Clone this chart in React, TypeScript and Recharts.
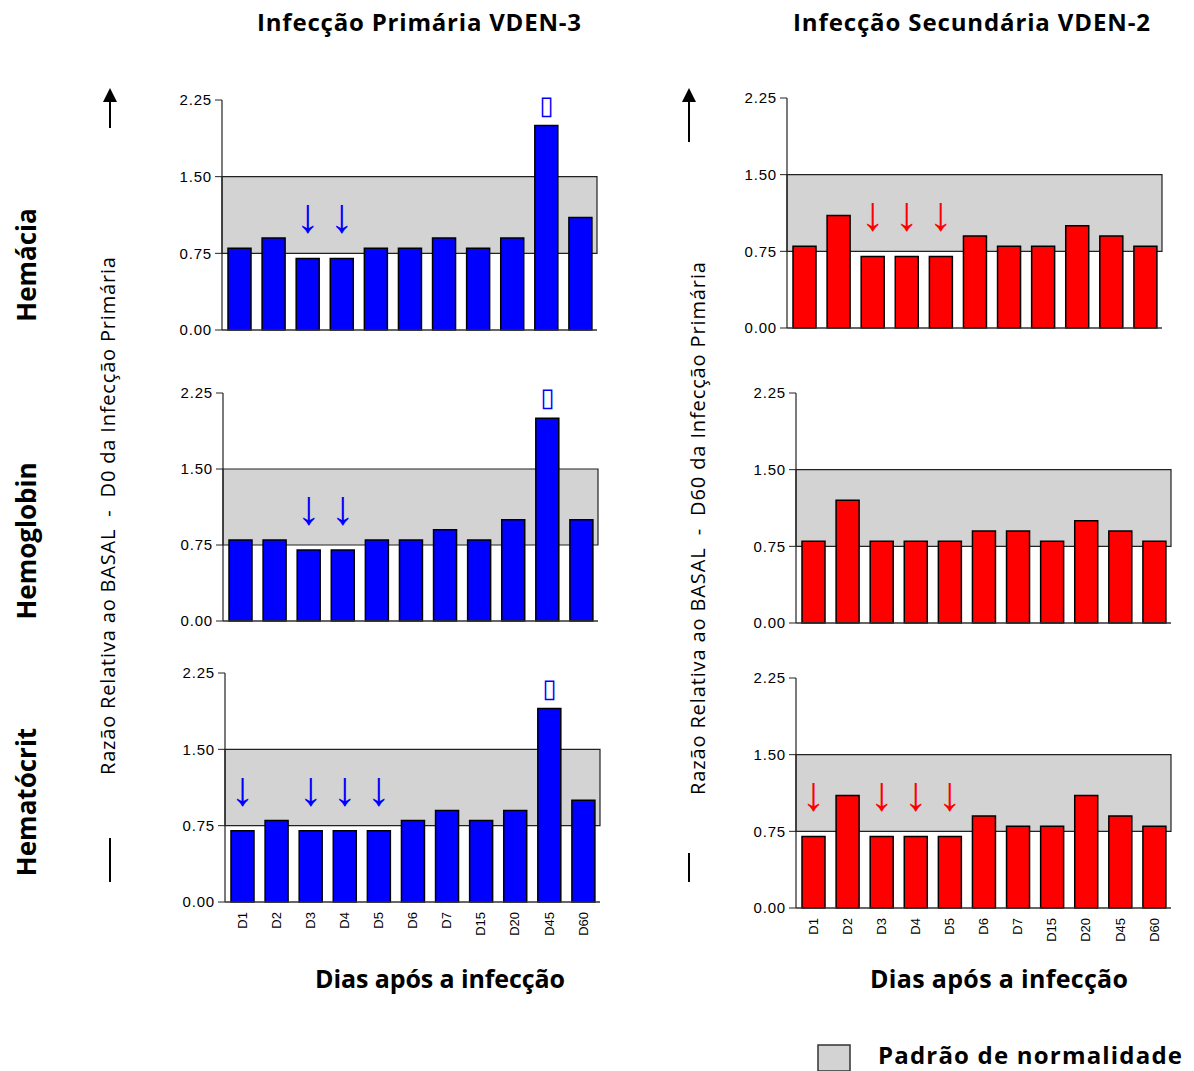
import React from 'react';
import { BarChart, Bar, XAxis, YAxis, ReferenceArea, LabelList } from 'recharts';

const days = ['D1', 'D2', 'D3', 'D4', 'D5', 'D6', 'D7', 'D15', 'D20', 'D45', 'D60'];

const primHemacia = [0.8, 0.9, 0.7, 0.7, 0.8, 0.8, 0.9, 0.8, 0.9, 2.0, 1.1];
const secHemacia = [0.8, 1.1, 0.7, 0.7, 0.7, 0.9, 0.8, 0.8, 1.0, 0.9, 0.8];
const primHemoglobin = [0.8, 0.8, 0.7, 0.7, 0.8, 0.8, 0.9, 0.8, 1.0, 2.0, 1.0];
const secHemoglobin = [0.8, 1.2, 0.8, 0.8, 0.8, 0.9, 0.9, 0.8, 1.0, 0.9, 0.8];
const primHematocrit = [0.7, 0.8, 0.7, 0.7, 0.7, 0.8, 0.9, 0.8, 0.9, 1.9, 1.0];
const secHematocrit = [0.7, 1.1, 0.7, 0.7, 0.7, 0.9, 0.8, 0.8, 1.1, 0.9, 0.8];

// markers: 'd' = down arrow, 'u' = up marker (rendered as missing-glyph box in source)
const primHemaciaMarks = ['', '', 'd', 'd', '', '', '', '', '', 'u', ''];
const secHemaciaMarks = ['', '', 'd', 'd', 'd', '', '', '', '', '', ''];
const primHemoglobinMarks = ['', '', 'd', 'd', '', '', '', '', '', 'u', ''];
const secHemoglobinMarks = ['', '', '', '', '', '', '', '', '', '', ''];
const primHematocritMarks = ['d', '', 'd', 'd', 'd', '', '', '', '', 'u', ''];
const secHematocritMarks = ['d', '', 'd', 'd', 'd', '', '', '', '', '', ''];

const yTicks = [0, 0.75, 1.5, 2.25];
const normalRange = [0.75, 1.5];

const BLUE = '#0000ff';
const RED = '#ff0000';
const TEXT_FONT = '"Open Sans", sans-serif';

const build = (vals: number[], marks: string[]) =>
  days.map((d, i) => ({ day: d, value: vals[i], mark: marks[i] }));

const makeMark = (color: string) => (props: any) => {
  const { x, y, width, value } = props;
  if (!value) return null;
  const cx = Number(x) + Number(width) / 2;
  const top = Number(y);
  if (value === 'd') {
    return (
      <text x={cx} y={top - 26} textAnchor="middle" fill={color} fontSize={48}
        fontFamily="Liberation Sans, Arial, sans-serif">↓</text>
    );
  }
  return (
    <text x={cx} y={top - 12} textAnchor="middle" fill={color} fontSize={26}
      fontFamily="DejaVu Sans, sans-serif">▯</text>
  );
};

const XTick = (props: any) => {
  const { x, y, payload } = props;
  return (
    <text x={x} y={y + 2} transform={`rotate(-90, ${x}, ${y + 2})`} textAnchor="end" dy="0.36em"
      fontSize={13} fontFamily="Liberation Sans, Arial, sans-serif" fill="#000">
      {payload.value}
    </text>
  );
};

type PanelProps = {
  data: any[];
  color: string;
  axisX: number;
  y225: number;
  y0: number;
  showX: boolean;
};

const Panel = ({ data, color, axisX, y225, y0, showX }: PanelProps) => {
  const mTop = 15;
  const mBottom = showX ? 0 : 14;
  const yw = 60;
  const plotW = 375;
  const xh = showX ? 45 : 1;
  const h = y0 - y225 + mTop + xh + mBottom;
  const w = yw + plotW + 10;
  return (
    <div style={{ position: 'absolute', left: axisX - yw, top: y225 - mTop }}>
      <BarChart width={w} height={h} data={data} barSize={23}
        margin={{ top: mTop, right: 10, bottom: mBottom, left: 0 }}>
        <ReferenceArea y1={normalRange[0]} y2={normalRange[1]} fill="#d3d3d3" fillOpacity={1}
          stroke="#222" strokeWidth={1.2} />
        <XAxis dataKey="day" axisLine={{ stroke: '#333', strokeWidth: 1.5 }} tickLine={false}
          tick={showX ? <XTick /> : false} height={xh} interval={0} />
        <YAxis width={yw} domain={[0, 2.25]} ticks={yTicks} interval={0}
          axisLine={{ stroke: '#222', strokeWidth: 1.2 }} tickLine={{ stroke: '#222' }}
          tickSize={7} tickMargin={3}
          tickFormatter={(v: number) => v.toFixed(2)}
          tick={{ fontSize: 15, fill: '#000', fontFamily: 'Liberation Sans, Arial, sans-serif', letterSpacing: 0.8 }} />
        <Bar dataKey="value" fill={color} stroke="#000" strokeWidth={1.5} isAnimationActive={false}>
          <LabelList dataKey="mark" content={makeMark(color)} />
        </Bar>
      </BarChart>
    </div>
  );
};

export default function App() {
  return (
    <div style={{ position: 'absolute', left: 0, top: 0, width: 1194, height: 1071, background: '#fff', overflow: 'hidden' }}>
      <svg width={1194} height={1071} style={{ position: 'absolute', left: 0, top: 0 }}>
        <g fontFamily={TEXT_FONT} fill="#000">
          <text x={257} y={31} fontSize={24} fontWeight="bold" textLength={324} lengthAdjust="spacing">Infecção Primária VDEN-3</text>
          <text x={793} y={31} fontSize={24} fontWeight="bold" textLength={357} lengthAdjust="spacing">Infecção Secundária VDEN-2</text>

          <text transform="translate(36,265) rotate(-90)" textAnchor="middle" fontSize={26} fontWeight="bold">Hemácia</text>
          <text transform="translate(36,541) rotate(-90)" textAnchor="middle" fontSize={26} fontWeight="bold">Hemoglobin</text>
          <text transform="translate(36,802) rotate(-90)" textAnchor="middle" fontSize={26} fontWeight="bold">Hematócrit</text>

          <text transform="translate(115,775) rotate(-90)" fontSize={20} xmlSpace="preserve" textLength={518} lengthAdjust="spacing">Razão Relativa ao BASAL  -  D0 da Infecção Primária</text>
          <text transform="translate(705,795) rotate(-90)" fontSize={20} xmlSpace="preserve" textLength={533} lengthAdjust="spacing">Razão Relativa ao BASAL  -  D60 da Infecção Primária</text>

          <text x={315} y={988} fontSize={25} fontWeight="bold" textLength={250} lengthAdjust="spacing">Dias após a infecção</text>
          <text x={870} y={988} fontSize={25} fontWeight="bold" textLength={258} lengthAdjust="spacing">Dias após a infecção</text>

          <rect x={818} y={1045} width={32} height={26} fill="#d3d3d3" stroke="#333" strokeWidth={1.5} />
          <text x={878} y={1064} fontSize={24} fontWeight="bold" textLength={304} lengthAdjust="spacing">Padrão de normalidade</text>
        </g>
        <g stroke="#000" strokeWidth={2}>
          <line x1={110} y1={98} x2={110} y2={128} />
          <line x1={110} y1={838} x2={110} y2={882} />
          <line x1={689} y1={98} x2={689} y2={142} />
          <line x1={689} y1={853} x2={689} y2={882} />
        </g>
        <polygon points="103,102 117,102 110,88" fill="#000" />
        <polygon points="682,102 696,102 689,88" fill="#000" />
      </svg>

      <Panel data={build(primHemacia, primHemaciaMarks)} color={BLUE} axisX={222} y225={100} y0={330} showX={false} />
      <Panel data={build(secHemacia, secHemaciaMarks)} color={RED} axisX={787} y225={98} y0={328} showX={false} />
      <Panel data={build(primHemoglobin, primHemoglobinMarks)} color={BLUE} axisX={223} y225={393} y0={621} showX={false} />
      <Panel data={build(secHemoglobin, secHemoglobinMarks)} color={RED} axisX={796} y225={393} y0={623} showX={false} />
      <Panel data={build(primHematocrit, primHematocritMarks)} color={BLUE} axisX={225} y225={673} y0={902} showX={true} />
      <Panel data={build(secHematocrit, secHematocritMarks)} color={RED} axisX={796} y225={678} y0={908} showX={true} />
    </div>
  );
}
